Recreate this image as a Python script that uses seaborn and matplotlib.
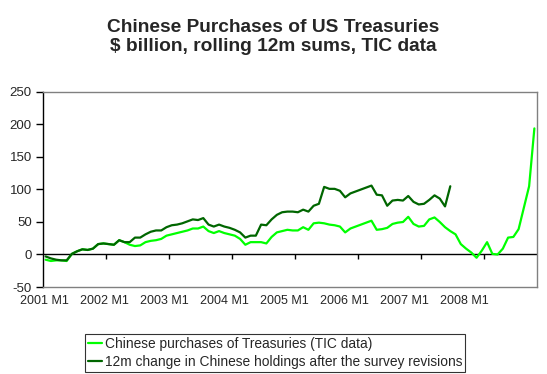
import numpy as np
import pandas as pd
import matplotlib
matplotlib.use('Agg')
import matplotlib.pyplot as plt
import seaborn as sns

# Monthly categories 2001 M1 .. 2008 M10
years = list(range(2001, 2009))
months = [f'{y} M{m}' for y in years for m in range(1, 13)][:94]

# Chinese purchases of Treasuries, TIC data ($bn, rolling 12m sums)
tic_purchases = [
    -8, -10, -9, -9, -10, 1, 5, 8, 7, 9, 16, 17,
    16, 15, 22, 19, 15, 13, 14, 19, 21, 22, 24, 29,
    31, 33, 35, 37, 40, 40, 43, 36, 33, 36, 33, 31,
    29, 24, 15, 19, 19, 19, 17, 27, 34, 36, 38, 37,
    37, 42, 38, 48, 49, 48, 46, 45, 43, 34, 40, 43,
    46, 49, 52, 38, 39, 41, 47, 49, 50, 58, 47, 43,
    44, 54, 57, 50, 42, 36, 31, 16, 9, 3, -5, 6,
    19, 1, 0, 9, 26, 27, 39, 72, 105, 194,
]

# 12m change in Chinese holdings after the survey revisions ($bn)
survey_change = [
    -3, -6, -8, -9, -9, 1, 5, 8, 7, 9, 16, 17,
    16, 15, 22, 19, 19, 26, 26, 31, 35, 37, 37, 42,
    45, 46, 48, 51, 54, 53, 56, 46, 43, 46, 43, 41,
    38, 34, 26, 29, 29, 46, 45, 54, 61, 65, 66, 66,
    65, 69, 66, 75, 78, 104, 101, 101, 98, 88, 94, 97,
    100, 103, 106, 92, 91, 75, 83, 84, 83, 90, 81, 77,
    78, 84, 91, 86, 74, 105,
]

tick_labels = [f'{y} M1' for y in years]
y_ticks = [-50, 0, 50, 100, 150, 200, 250]

df_tic = pd.DataFrame({'idx': range(len(tic_purchases)), 'value': tic_purchases})
df_srv = pd.DataFrame({'idx': range(len(survey_change)), 'value': survey_change})

sns.set_style('white')
plt.rcParams['font.family'] = ['Liberation Sans', 'DejaVu Sans']

fig = plt.figure(figsize=(5.47, 3.74), dpi=100)
ax = fig.add_axes([43 / 547, 1 - 287 / 374, 494 / 547, 195 / 374])

sns.lineplot(data=df_tic, x='idx', y='value', ax=ax, color='#00ff00', lw=1.6,
             label='Chinese purchases of Treasuries (TIC data)')
sns.lineplot(data=df_srv, x='idx', y='value', ax=ax, color='#006600', lw=1.6,
             label='12m change in Chinese holdings after the survey revisions')

ax.set_xlim(-0.5, len(months) - 0.5)
ax.set_ylim(-50, 250)
ax.set_xlabel('')
ax.set_ylabel('')

ax.axhline(0, color='black', lw=1, zorder=1)
# tick marks between categories at each year boundary, hanging from zero line
boundaries = [12 * k - 0.5 for k in range(1, 8)]
ax.vlines(boundaries, -7.5, 0, color='black', lw=1)

# Excel-style category labels
label_pos = [-0.3 + 11.43 * k for k in range(len(tick_labels))]
ax.set_xticks(label_pos)
ax.set_xticklabels(tick_labels, fontsize=9)
ax.tick_params(axis='x', length=0, pad=6)

ax.set_yticks(y_ticks)
ax.set_yticklabels([str(v) for v in y_ticks], fontsize=9.5)
ax.tick_params(axis='y', left=True, length=5, width=1, color='black', direction='out', pad=3)

for s in ['top', 'right', 'bottom']:
    ax.spines[s].set_color('#808080')
    ax.spines[s].set_linewidth(1)
ax.spines['left'].set_color('black')
ax.spines['left'].set_linewidth(1)

ax.get_legend().remove()
handles, labels = ax.get_legend_handles_labels()
leg = fig.legend(handles, labels, loc='upper left', bbox_to_anchor=(85 / 547, 1 - 334 / 374),
                 frameon=True, fancybox=False, fontsize=9.9, handlelength=1.0,
                 handletextpad=0.25, borderpad=0.2, labelspacing=0.3, borderaxespad=0)
leg.get_frame().set_edgecolor('black')
leg.get_frame().set_linewidth(0.8)

fig.text(273 / 547, 1 - 37 / 374, 'Chinese Purchases of US Treasuries\n$ billion, rolling 12m sums, TIC data',
         ha='center', va='center', fontsize=13.8, fontweight='bold', linespacing=1.22)

fig.savefig('out.png', dpi=100)
